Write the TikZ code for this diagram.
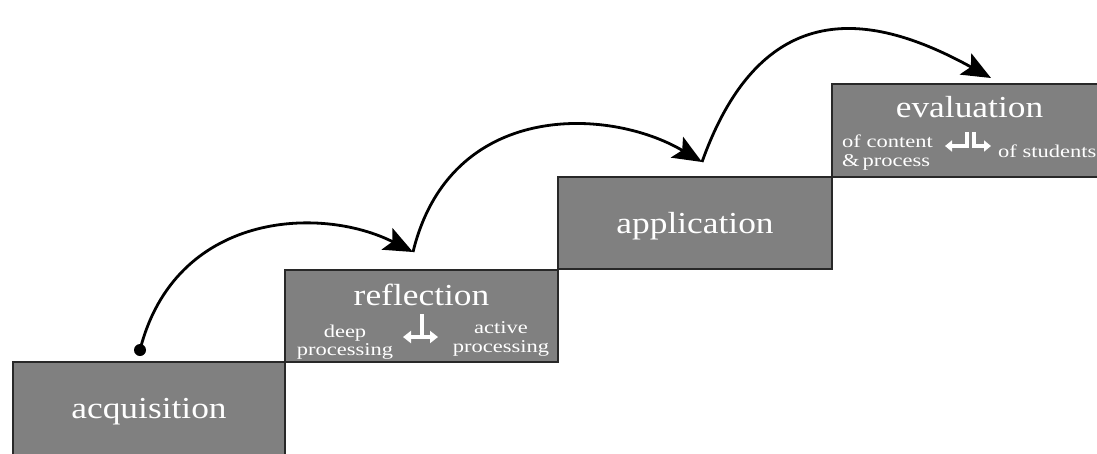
\documentclass[tikz,border=0pt]{standalone}
\usepackage{fontspec}
\setmainfont{Liberation Serif}
\newfontfamily\titlefont[FakeStretch=1.16]{Liberation Serif}
\newfontfamily\notefont[FakeStretch=1.25]{Liberation Serif}
\usetikzlibrary{arrows.meta}
\definecolor{stepgray}{RGB}{128,128,128}
\definecolor{edgegray}{RGB}{40,40,40}
\tikzset{
  stepbox/.style={fill=stepgray, draw=edgegray, line width=1.5pt},
  steptitle/.style={text=white, font=\titlefont\fontsize{30.5}{31}\selectfont, inner sep=0pt, anchor=base},
  stepnote/.style={text=white, font=\notefont\fontsize{18}{19}\selectfont, inner sep=0pt, anchor=base},
  hop/.style={line width=2.8pt, black, -{Stealth[length=29pt,width=24pt,inset=6pt]}},
  glyph/.style={white, line width=4pt}
}
\begin{document}
\begin{tikzpicture}[x=1pt,y=-1pt]
\useasboundingbox (0,0) rectangle (1097,453);
\clip (0,0) rectangle (1097,453);

% the four steps of the staircase
\path[stepbox] (13,362) rectangle (285,470);
\path[stepbox] (285,270) rectangle (558,362);
\path[stepbox] (558,177) rectangle (832,269);
\path[stepbox] (832,84) rectangle (1110,177);

% step titles
\node[steptitle] (acq) at (149,418) {acquisition};
\node[steptitle] (refl) at (421.5,305) {reflection};
\node[steptitle] (appl) at (695,233) {application};
\node[steptitle] (eval) at (969.5,117) {evaluation};

% reflection notes
\node[stepnote] (deep1) at (345,337) {deep};
\node[stepnote] (deep2) at (345,355) {processing};
\node[stepnote] (act1) at (501,333) {active};
\node[stepnote] (act2) at (501,352) {processing};

% reflection glyph: stem over a two-way arrow
\draw[glyph] (422,314) -- (422,337);
\draw[glyph, {Triangle[length=8pt,width=12pt]}-{Triangle[length=8pt,width=12pt]}] (403,337) -- (438,337);

% evaluation notes
\node[stepnote, anchor=base west] (ev1) at (842,147) {of content};
\node[stepnote, anchor=base west] (ev2) at (842,166) {\&\,process};
\node[stepnote, anchor=base west] (ev3) at (998,157) {of students};

% evaluation glyph: two hooks pointing outwards
\draw[glyph, {Triangle[length=7pt,width=11pt]}-, line join=miter] (945,146) -- (967,146) -- (967,132);
\draw[glyph, -{Triangle[length=7pt,width=11pt]}, line join=miter] (974,132) -- (974,146) -- (991,146);

% jumps between the steps
\coordinate (s1) at (140,350);
\coordinate (t1) at (413,252);
\coordinate (t2) at (702,162);
\coordinate (t3) at (991,78);
\fill (s1) circle (6pt);
\draw[hop] (s1) .. controls (175,212) and (320,205) .. (t1);
\draw[hop] (t1) .. controls (450,100) and (609,107) .. (t2);
\draw[hop] (t2) .. controls (765,-14) and (882,18) .. (t3);
\end{tikzpicture}
\end{document}
